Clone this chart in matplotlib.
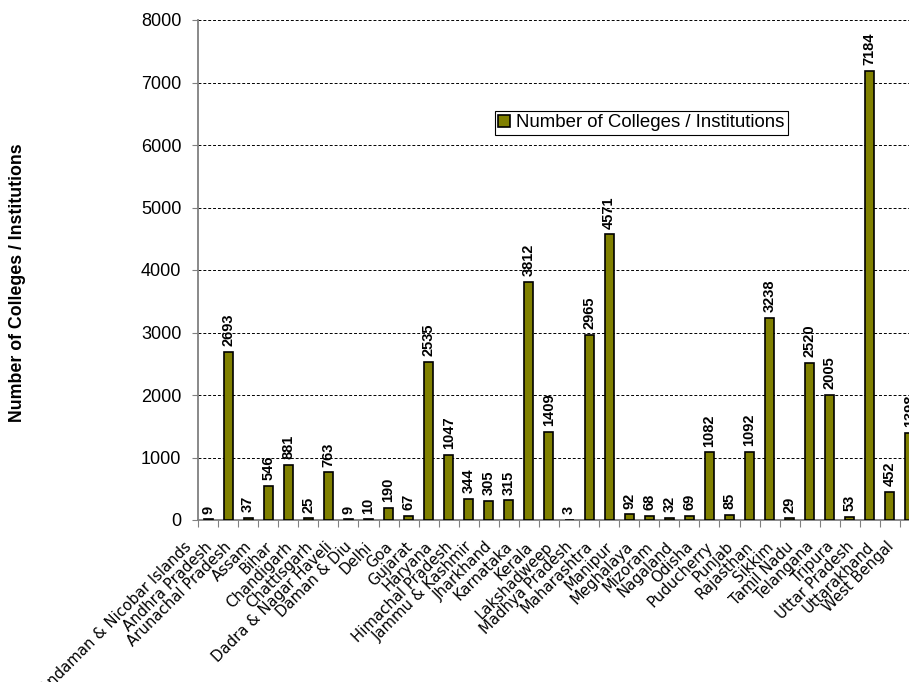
import matplotlib
matplotlib.use("Agg")
from matplotlib import pyplot as plt
from matplotlib.transforms import ScaledTranslation
import numpy as np

# States / UTs and number of colleges
states = ["Andaman & Nicobar Islands", "Andhra Pradesh", "Arunachal Pradesh", "Assam",
          "Bihar", "Chandigarh", "Chattisgarh", "Dadra & Nagar Haveli", "Daman & Diu",
          "Delhi", "Goa", "Gujarat", "Haryana", "Himachal Pradesh", "Jammu & Kashmir",
          "Jharkhand", "Karnataka", "Kerala", "Lakshadweep", "Madhya Pradesh",
          "Maharashtra", "Manipur", "Meghalaya", "Mizoram", "Nagaland", "Odisha",
          "Puducherry", "Punjab", "Rajasthan", "Sikkim", "Tamil Nadu", "Telangana",
          "Tripura", "Uttar Pradesh", "Uttarakhand", "West Bengal"]
colleges = [9, 2693, 37, 546, 881, 25, 763, 9, 10, 190, 67, 2535, 1047, 344, 305,
            315, 3812, 1409, 3, 2965, 4571, 92, 68, 32, 69, 1082, 85, 1092, 3238,
            29, 2520, 2005, 53, 7184, 452, 1398]
yticks = [0, 1000, 2000, 3000, 4000, 5000, 6000, 7000, 8000]

arial = "Liberation Sans"

fig = plt.figure(figsize=(9.09, 6.82), dpi=100)
# axes runs past the right edge like the original screenshot
ax = fig.add_axes([198 / 909, 1 - 520 / 682, 722 / 909, 500 / 682])

x = np.arange(len(states))
ax.bar(x, colleges, width=0.45, color="#808000", edgecolor="black", linewidth=1.2,
       label="Number of Colleges / Institutions", zorder=3)

for xi, v in zip(x, colleges):
    ax.text(xi, v + 90, str(v), rotation=90, ha="center", va="bottom",
            fontsize=10.5, fontweight="bold", family=arial, zorder=4)

ax.set_xlim(-0.5, len(states) - 0.5)
ax.set_ylim(0, 8000)
ax.set_yticks(yticks)
ax.set_yticklabels([str(t) for t in yticks], family=arial, fontsize=13)
ax.tick_params(axis="y", length=4, color="#808080", pad=8)

# tick marks on category boundaries, labels at centres
ax.set_xticks(np.arange(-0.5, len(states), 1.0))
ax.set_xticklabels([])
ax.tick_params(axis="x", which="major", length=5, color="#808080", direction="out")
ax.set_xticks(x, minor=True)
ax.set_xticklabels(states, minor=True, rotation=45, ha="right", va="top",
                   rotation_mode="anchor", family="DejaVu Sans", fontsize=10.7)
ax.tick_params(axis="x", which="minor", length=0, pad=8)
shift = ScaledTranslation(-24 / 100, -8 / 100, fig.dpi_scale_trans)
for lab in ax.get_xticklabels(minor=True):
    lab.set_transform(lab.get_transform() + shift)

ax.yaxis.grid(True, linestyle=(0, (3, 2)), color="black", linewidth=0.7, zorder=0)
ax.spines["top"].set_visible(False)
ax.spines["right"].set_visible(False)
ax.spines["left"].set_color("#808080")
ax.spines["bottom"].set_color("#808080")
ax.spines["left"].set_linewidth(1.3)
ax.spines["bottom"].set_linewidth(1.3)

fig.text(18 / 909, 1 - 283 / 682, "Number of Colleges / Institutions", rotation=90,
         ha="center", va="center", fontsize=12.8, fontweight="bold", family=arial)

leg = ax.legend(loc="upper left", bbox_to_anchor=((495 - 198) / 722, (520 - 111) / 500),
                prop={"family": arial, "size": 13.4}, fancybox=False, framealpha=1,
                edgecolor="black", handlelength=0.65, handleheight=0.65,
                handletextpad=0.3, borderpad=0.18, borderaxespad=0)
leg.get_frame().set_linewidth(0.8)

fig.savefig("out.png", dpi=100)
